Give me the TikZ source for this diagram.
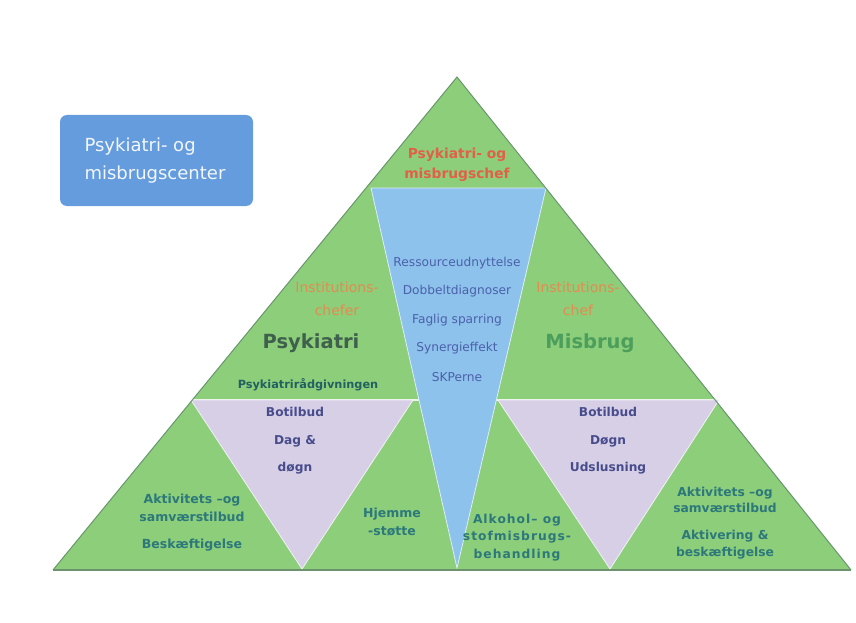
\documentclass[tikz,border=0pt]{standalone}
\usepackage{fontspec}
\setmainfont{DejaVu Sans}
\usetikzlibrary{positioning}
\definecolor{pyrgreen}{RGB}{141,206,122}
\definecolor{pyredge}{RGB}{104,150,108}
\definecolor{pyrblue}{RGB}{140,194,236}
\definecolor{pyrlilac}{RGB}{214,207,230}
\definecolor{boxblue}{RGB}{100,156,222}
\definecolor{chefred}{RGB}{226,96,72}
\definecolor{chieforange}{RGB}{226,140,80}
\definecolor{bluetext}{RGB}{76,96,170}
\definecolor{lilactext}{RGB}{72,76,140}
\definecolor{tealtext}{RGB}{44,120,122}
\definecolor{darkgreen}{RGB}{62,96,76}
\definecolor{midgreen}{RGB}{76,158,92}
\tikzset{
  lbl/.style={inner sep=0pt, align=center, font=\fontsize{12.5}{14}\selectfont},
  bluelbl/.style={lbl, text=bluetext, font=\fontsize{12.2}{14}\selectfont},
  lilaclbl/.style={lbl, text=lilactext, font=\fontsize{12.2}{14}\selectfont\bfseries},
  teallbl/.style={lbl, text=tealtext, font=\fontsize{12.5}{14}\selectfont\bfseries},
  chieflbl/.style={lbl, text=chieforange, font=\fontsize{14}{23}\selectfont},
  sectlbl/.style={lbl, font=\fontsize{19.5}{22}\selectfont\bfseries},
}
\begin{document}
\begin{tikzpicture}[x=1pt, y=-1pt]
        \useasboundingbox (0,0) rectangle (856,623);
        % Corners
        \coordinate (apex) at (457,77);
        \coordinate (bl) at (53,570);
        \coordinate (br) at (851,570);
        \coordinate (midl) at (192,400);
        \coordinate (midr) at (717,400);
        % Pyramid
        \fill[pyrgreen] (apex) -- (br) -- (bl) -- cycle;
        \draw[white!80!pyrgreen, line width=1.2pt] (midl) -- (midr);
        \fill[pyrlilac, draw=white!70!pyrlilac, line width=0.8pt]
            (191,400) -- (413,400) -- (302,569) -- cycle;
        \fill[pyrlilac, draw=white!70!pyrlilac, line width=0.8pt]
            (498,400) -- (719,400) -- (610,569) -- cycle;
        \fill[pyrblue, draw=white!70!pyrblue, line width=0.8pt]
            (371,188) -- (546,188) -- (457,568) -- cycle;
        \draw[pyredge, line width=1pt] (bl) -- (apex) -- (br);
        \draw[pyredge!80!gray, line width=1.6pt] (bl) -- (br);
        % Center box
        \node[fill=boxblue, rounded corners=7pt, minimum width=193pt, minimum height=91pt,
              inner sep=0pt] (centerbox) at (156.5,160.5) {};
        \node[anchor=west, text=white!92!boxblue, align=left,
              font=\fontsize{18}{28}\selectfont] (centername) at (81,161)
              {Psykiatri- og\\misbrugscenter};
        % Top
        \node[lbl, text=chefred, font=\fontsize{13.8}{20}\selectfont\bfseries]
              (topchef) at (457,165) {Psykiatri- og\\misbrugschef};
        % Blue triangle
        \node[bluelbl] (ressource) at (457,263) {Ressourceudnyttelse};
        \node[bluelbl, below of=ressource, node distance=28.5pt] (dobbelt) {Dobbeltdiagnoser};
        \node[bluelbl, below of=dobbelt, node distance=28.5pt] (faglig) {Faglig sparring};
        \node[bluelbl, below of=faglig, node distance=28.5pt] (synergi) {Synergieffekt};
        \node[bluelbl, below of=synergi, node distance=28.5pt] (skperne) {SKPerne};
        % Psykiatri side
        \node[chieflbl] (chefpsyk) at (337,298.5) {Institutions-\\chefer};
        \node[sectlbl, text=darkgreen] (psykiatri) at (311,343) {Psykiatri};
        \node[teallbl, text=tealtext!80!black, font=\fontsize{11.3}{14}\selectfont\bfseries]
              (raadgiv) at (308,385) {Psykiatrirådgivningen};
        % Misbrug side
        \node[chieflbl] (chefmis) at (578,298.5) {Institutions-\\chef};
        \node[sectlbl, text=midgreen] (misbrug) at (590,343) {Misbrug};
        % Left lilac triangle
        \node[lilaclbl] (botilbudl) at (295,412) {Botilbud};
        \node[lilaclbl, below of=botilbudl, node distance=29pt] (dag) {Dag \&};
        \node[lilaclbl, below of=dag, node distance=27pt] (doegn) {døgn};
        % Right lilac triangle
        \node[lilaclbl] (botilbudr) at (608,412) {Botilbud};
        \node[lilaclbl, below of=botilbudr, node distance=29pt] (doegnr) {Døgn};
        \node[lilaclbl, below of=doegnr, node distance=27pt] (udsluse) {Udslusning};
        % Bottom green fields
        \node[teallbl, font=\fontsize{12.5}{18}\selectfont\bfseries] (aktivl) at (192,508) {Aktivitets –og\\samværstilbud};
        \node[teallbl, below of=aktivl, node distance=37pt] (beskaeft) {Beskæftigelse};
        \node[teallbl, font=\fontsize{12.5}{18}\selectfont\bfseries] (hjemme) at (392,522) {Hjemme\\-støtte};
        \node[teallbl, font=\fontsize{12.3}{17.5}\selectfont\bfseries\addfontfeatures{LetterSpace=8}]
              (alkohol) at (517,537.5) {Alkohol– og\\stofmisbrugs-\\behandling};
        \node[teallbl, font=\fontsize{12.3}{16.5}\selectfont\bfseries] (aktivr) at (725,500) {Aktivitets –og\\samværstilbud};
        \node[teallbl, font=\fontsize{12.3}{16.5}\selectfont\bfseries, below of=aktivr, node distance=44.5pt]
              (aktivering) {Aktivering \&\\beskæftigelse};
    \end{tikzpicture}
\end{document}
